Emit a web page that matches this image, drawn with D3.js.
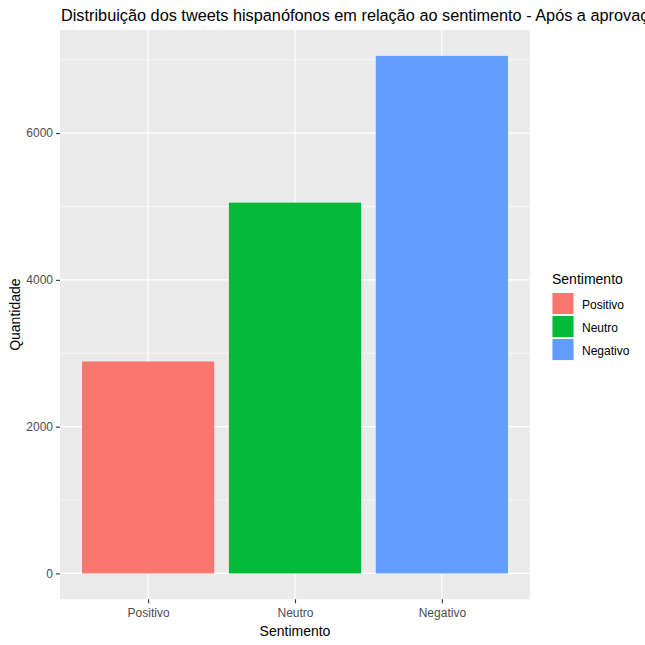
<!DOCTYPE html>
<html>
<head>
<meta charset="utf-8">
<script src="https://cdn.jsdelivr.net/npm/d3@7"></script>
<style>
  body { margin: 0; background: #fff; }
  text { font-family: "Liberation Sans", Arial, sans-serif; }
</style>
</head>
<body>
<svg id="chart" width="645" height="645"></svg>
<script>
// data
var categories = ['Positivo', 'Neutro', 'Negativo'];
var counts = [2888, 5052, 7052];
var colors = ['#F8766D', '#00BA38', '#619CFF'];
var yTicks = [0, 2000, 4000, 6000];
var yMinor = [1000, 3000, 5000, 7000];

var svg = d3.select('#chart');
var panel = { left: 60, top: 30, right: 530, bottom: 599.3 };

var maxV = d3.max(counts);
var y = d3.scaleLinear()
    .domain([-0.05 * maxV, 1.05 * maxV])
    .range([panel.bottom, panel.top]);

var xPos = d3.scaleLinear()
    .domain([0.4, categories.length + 0.6])
    .range([panel.left, panel.right]);
var unit = xPos(2) - xPos(1);

// panel background
svg.append('rect')
    .attr('x', panel.left).attr('y', panel.top)
    .attr('width', panel.right - panel.left)
    .attr('height', panel.bottom - panel.top)
    .attr('fill', '#EBEBEB');

// minor grid
svg.selectAll('line.minor')
    .data(yMinor)
    .enter().append('line')
    .attr('class', 'minor')
    .attr('x1', panel.left).attr('x2', panel.right)
    .attr('y1', function(d) { return y(d); })
    .attr('y2', function(d) { return y(d); })
    .attr('stroke', '#fff').attr('stroke-width', 0.6);

// major grid
svg.selectAll('line.majory')
    .data(yTicks)
    .enter().append('line')
    .attr('class', 'majory')
    .attr('x1', panel.left).attr('x2', panel.right)
    .attr('y1', function(d) { return y(d); })
    .attr('y2', function(d) { return y(d); })
    .attr('stroke', '#fff').attr('stroke-width', 1.2);

svg.selectAll('line.majorx')
    .data(categories)
    .enter().append('line')
    .attr('class', 'majorx')
    .attr('y1', panel.top).attr('y2', panel.bottom)
    .attr('x1', function(d, i) { return xPos(i + 1); })
    .attr('x2', function(d, i) { return xPos(i + 1); })
    .attr('stroke', '#fff').attr('stroke-width', 1.2);

// bars
svg.selectAll('rect.bar')
    .data(counts)
    .enter().append('rect')
    .attr('class', 'bar')
    .attr('x', function(d, i) { return xPos(i + 1) - unit * 0.45; })
    .attr('width', unit * 0.9)
    .attr('y', function(d) { return y(d); })
    .attr('height', function(d) { return y(0) - y(d); })
    .attr('fill', function(d, i) { return colors[i]; });

// y axis
var yAxis = d3.axisLeft(y).tickValues(yTicks).tickFormat(d3.format('d'))
    .tickSize(4).tickPadding(3);
var gy = svg.append('g')
    .attr('transform', 'translate(' + panel.left + ',0)')
    .call(yAxis);
gy.select('.domain').remove();
gy.selectAll('.tick line').attr('stroke', '#333').attr('stroke-width', 1.1);
gy.selectAll('.tick text')
    .attr('fill', '#4D4D4D')
    .style('font-size', '12px')
    .style('font-family', '"Liberation Sans", Arial, sans-serif');

// x axis
var xBand = d3.scalePoint()
    .domain(categories)
    .range([xPos(1), xPos(categories.length)]);
var xAxis = d3.axisBottom(xBand).tickSize(4).tickPadding(5);
var gx = svg.append('g')
    .attr('transform', 'translate(0,' + panel.bottom + ')')
    .call(xAxis);
gx.select('.domain').remove();
gx.selectAll('.tick line').attr('stroke', '#333').attr('stroke-width', 1.1);
gx.selectAll('.tick text')
    .attr('fill', '#4D4D4D')
    .style('font-size', '12px')
    .style('font-family', '"Liberation Sans", Arial, sans-serif');

// titles
svg.append('text')
    .attr('x', 61).attr('y', 21)
    .style('font-size', '16.3px')
    .attr('fill', '#000')
    .text('Distribuição dos tweets hispanófonos em relação ao sentimento - Após a aprovação');

svg.append('text')
    .attr('x', (panel.left + panel.right) / 2).attr('y', 636)
    .attr('text-anchor', 'middle')
    .style('font-size', '14px')
    .text('Sentimento');

svg.append('text')
    .attr('transform', 'translate(19.5,' + ((panel.top + panel.bottom) / 2) + ') rotate(-90)')
    .attr('text-anchor', 'middle')
    .style('font-size', '14px')
    .text('Quantidade');

// legend
var legend = svg.append('g').attr('transform', 'translate(552,0)');
legend.append('text')
    .attr('x', 0).attr('y', 284)
    .style('font-size', '14px')
    .text('Sentimento');

var keys = legend.selectAll('g.key')
    .data(categories)
    .enter().append('g')
    .attr('class', 'key')
    .attr('transform', function(d, i) { return 'translate(0,' + (292.5 + i * 23) + ')'; });
keys.append('rect')
    .attr('width', 22).attr('height', 22)
    .attr('fill', '#F2F2F2');
keys.append('rect')
    .attr('x', 0.5).attr('y', 0.5)
    .attr('width', 21).attr('height', 21)
    .attr('fill', function(d, i) { return colors[i]; });
keys.append('text')
    .attr('x', 30).attr('y', 16)
    .style('font-size', '12px')
    .text(function(d) { return d; });
</script>
</body>
</html>
